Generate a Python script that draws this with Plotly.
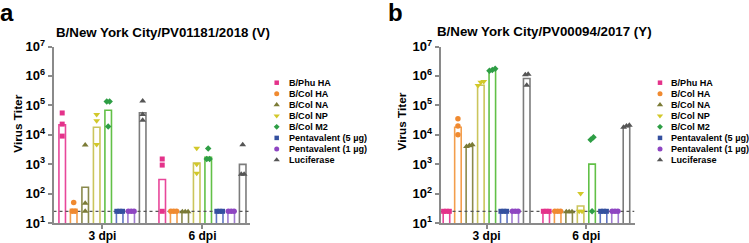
import plotly.graph_objects as go

# ---------------- data ----------------
groups = ["3 dpi", "6 dpi"]
series = ["B/Phu HA", "B/Col HA", "B/Col NA", "B/Col NP", "B/Col M2",
          "Pentavalent (5 µg)", "Pentavalent (1 µg)", "Luciferase"]
y_tickvals = [1e1, 1e2, 1e3, 1e4, 1e5, 1e6, 1e7]
y_ticktext = ["10<sup>1</sup>", "10<sup>2</sup>", "10<sup>3</sup>", "10<sup>4</sup>",
              "10<sup>5</sup>", "10<sup>6</sup>", "10<sup>7</sup>"]
lod = 25

title_a = "B/New York City/PV01181/2018 (V)"
title_b = "B/New York City/PV00094/2017 (Y)"

# panel a: individual points (3 per series) at 3 dpi and 6 dpi
a_pts_3dpi = [[5.5e4, 2.3e4, 9.0e3], [50, 25, 25], [4.5e3, 47, 25], [4.9e4, 3.0e4, 4.7e3],
              [1.35e5, 1.35e5, 1.9e4], [25, 25, 25], [25, 25, 25], [1.4e5, 4.9e4, 3.1e4]]
a_pts_6dpi = [[1.5e3, 9.3e2, 25], [25, 25, 25], [24, 24, 24], [3.5e3, 1.0e3, 4.9e2],
              [3.4e3, 1.5e3, 1.5e3], [25, 25, 25], [25, 25, 25], [4.6e3, 4.5e2, 4.5e2]]
a_bar_3dpi = [2.2e4, 29, 165, 1.8e4, 6.8e4, 25, 25, 5.6e4]
a_bar_6dpi = [300, 25, 24, 1.1e3, 1.7e3, 25, 25, 980]

# panel b
b_pts_3dpi = [[25, 25, 25], [3.5e4, 2.0e4, 1.0e4], [4.6e3, 4.3e3, 4.0e3], [6.5e5, 6.1e5, 4.7e5],
              [1.75e6, 1.6e6, 1.5e6], [25, 25, 25], [25, 25, 25], [1.15e6, 1.1e6, 4.8e5]]
b_pts_6dpi = [[25, 25, 25], [25, 25, 25], [24, 24, 24], [100, 25, 25],
              [8.3e3, 6.7e3, 25], [25, 25, 25], [25, 25, 25], [2.1e4, 2.0e4, 1.8e4]]
b_bar_3dpi = [25, 1.8e4, 4.0e3, 4.8e5, 1.6e6, 25, 25, 8.2e5]
b_bar_6dpi = [25, 25, 24, 38, 1.0e3, 25, 25, 1.9e4]

# ---------------- style ----------------
W, H = 749, 243
symbols = ["square", "circle", "triangle-up", "triangle-down", "diamond",
           "square", "circle", "triangle-up"]
sizes = [5, 5.5, 6, 6, 5, 5, 5.5, 6]
marker_colors = ["#E4328A", "#F08A30", "#7B7B36", "#D2C82A", "#2E9E45",
                 "#34509F", "#8E45C2", "#555555"]
bar_colors = ["#E8479A", "#F39E4C", "#8A8A4C", "#CBC55C", "#62C047",
              "#5E74C2", "#A07CD0", "#7C7C7C"]
axis_color = "#8a8a8a"
FONT = "Liberation Sans, Arial, sans-serif"
GROUP_GAP = 8.7
BAR_W = 0.57
STEP = 0.25


def px_x(p):
    return p / W


def px_y(p):
    return 1 - p / H


def spread(vals):
    """horizontal offsets for points that overlap vertically"""
    import math
    order = sorted(range(len(vals)), key=lambda k: vals[k])
    offs = [0.0] * len(vals)
    clusters, cur = [], [order[0]]
    for k in order[1:]:
        if abs(math.log10(vals[k]) - math.log10(vals[cur[-1]])) < 0.15:
            cur.append(k)
        else:
            clusters.append(cur)
            cur = [k]
    clusters.append(cur)
    for c in clusters:
        n = len(c)
        for j, k in enumerate(c):
            offs[k] = (j - (n - 1) / 2) * STEP
    return offs


fig = go.Figure()

panels = [
    dict(xa="x", ya="y", pts=[a_pts_3dpi, a_pts_6dpi], bars=[a_bar_3dpi, a_bar_6dpi],
         dom=(53.5, 250), rng=(-4.257, 12.835)),
    dict(xa="x2", ya="y2", pts=[b_pts_3dpi, b_pts_6dpi], bars=[b_bar_3dpi, b_bar_6dpi],
         dom=(440.5, 634.5), rng=(-4.02, 12.9)),
]

for p in panels:
    bx, by, bc = [], [], []
    for g in range(len(groups)):
        for i in range(len(series)):
            bx.append(g * GROUP_GAP + (i - 3.5))
            by.append(p["bars"][g][i])
            bc.append(bar_colors[i])
    fig.add_trace(go.Bar(x=bx, y=by, width=BAR_W, xaxis=p["xa"], yaxis=p["ya"],
                         marker=dict(color="white", line=dict(color=bc, width=1.6)),
                         showlegend=False, hoverinfo="skip"))
    # LOD dotted line
    fig.add_trace(go.Scatter(x=[p["rng"][0], p["rng"][1]], y=[lod, lod], mode="lines",
                             xaxis=p["xa"], yaxis=p["ya"],
                             line=dict(color="#555555", width=1.3, dash="dot"),
                             showlegend=False, hoverinfo="skip"))
    for i in range(len(series)):
        xs, ys = [], []
        for g in range(len(groups)):
            vals = p["pts"][g][i]
            offs = spread(vals)
            for v, o in zip(vals, offs):
                xs.append(g * GROUP_GAP + (i - 3.5) + o)
                ys.append(v)
        fig.add_trace(go.Scatter(x=xs, y=ys, mode="markers", xaxis=p["xa"], yaxis=p["ya"],
                                 marker=dict(symbol=symbols[i], size=sizes[i],
                                             color=marker_colors[i], line=dict(width=0)),
                                 showlegend=False, name=series[i], cliponaxis=False))

# manual legends (marker on overlay axis + text annotation)
leg_specs = [(276.7, 286.7), (660.0, 669.0)]
LEG_Y0, LEG_DY = 82.7, 11.04
for mx, tx in leg_specs:
    for i in range(len(series)):
        fig.add_trace(go.Scatter(x=[mx], y=[LEG_Y0 + i * LEG_DY], mode="markers",
                                 xaxis="x3", yaxis="y3", showlegend=False, hoverinfo="skip",
                                 marker=dict(symbol=symbols[i], size=sizes[i] - 0.5,
                                             color=marker_colors[i], line=dict(width=0))))

annotations = []
for mx, tx in leg_specs:
    for i, s in enumerate(series):
        annotations.append(dict(x=px_x(tx), y=px_y(LEG_Y0 + i * LEG_DY), xref="paper", yref="paper",
                                text=s, showarrow=False, xanchor="left", yanchor="middle",
                                font=dict(family=FONT, size=9.1, color="black", weight="bold")))

for txt, x, y in [("a", 7, 13), ("b", 395.5, 12.5)]:
    annotations.append(dict(x=px_x(x), y=px_y(y), xref="paper", yref="paper", text=txt,
                            showarrow=False, xanchor="center", yanchor="middle",
                            font=dict(family=FONT, size=24, color="black", weight="bold")))
for txt, x, y in [(title_a, 162.5, 32), (title_b, 544, 31.7)]:
    annotations.append(dict(x=px_x(x), y=px_y(y), xref="paper", yref="paper", text=txt,
                            showarrow=False, xanchor="center", yanchor="middle",
                            font=dict(family=FONT, size=13.3, color="black", weight="bold")))
for x, y in [(17.7, 124), (401.5, 122)]:
    annotations.append(dict(x=px_x(x), y=px_y(y), xref="paper", yref="paper", text="Virus Titer",
                            showarrow=False, textangle=-90, xanchor="center", yanchor="middle",
                            font=dict(family=FONT, size=11.8, color="black", weight="bold")))

ydom = [px_y(223), px_y(46.5)]
common_y = dict(type="log", range=[1, 7], domain=ydom, tickmode="array", automargin=False,
                tickvals=y_tickvals, ticktext=y_ticktext, showline=True, linecolor=axis_color,
                linewidth=1.5, ticks="outside", ticklen=4, tickwidth=1.5, tickcolor=axis_color,
                showgrid=False, zeroline=False,
                tickfont=dict(family=FONT, size=13, color="black", weight="bold"))
common_x = dict(tickmode="array", tickvals=[g * GROUP_GAP for g in range(len(groups))],
                ticktext=groups, showline=True, linecolor=axis_color, linewidth=1.5,
                ticks="outside", ticklen=4, tickwidth=1.5, tickcolor=axis_color,
                showgrid=False, zeroline=False, automargin=False, ticklabelstandoff=-3,
                tickfont=dict(family=FONT, size=12, color="black", weight="bold"))

fig.update_layout(
    width=W, height=H, margin=dict(l=0, r=0, t=0, b=0, autoexpand=False),
    paper_bgcolor="white", plot_bgcolor="rgba(0,0,0,0)",
    barmode="overlay", showlegend=False,
    xaxis=dict(common_x, domain=[px_x(panels[0]["dom"][0]), px_x(panels[0]["dom"][1])],
               range=list(panels[0]["rng"]), anchor="y"),
    yaxis=dict(common_y, anchor="x"),
    xaxis2=dict(common_x, domain=[px_x(panels[1]["dom"][0]), px_x(panels[1]["dom"][1])],
                range=list(panels[1]["rng"]), anchor="y2"),
    yaxis2=dict(common_y, anchor="x2"),
    xaxis3=dict(domain=[0, 1], range=[0, W], visible=False, anchor="y3", automargin=False),
    yaxis3=dict(domain=[0, 1], range=[H, 0], visible=False, anchor="x3", automargin=False),
    annotations=annotations,
)

fig.write_html("out.html", config={"displayModeBar": False},
               post_script="document.body.style.margin='0px';document.body.style.overflow='hidden';")
